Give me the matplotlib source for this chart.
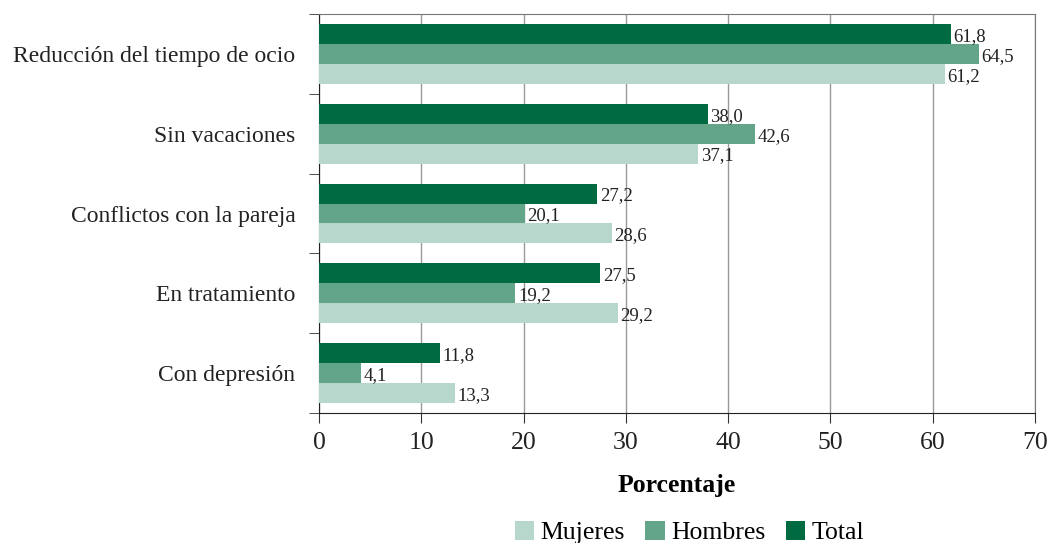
import matplotlib.pyplot as plt
import numpy as np

categorias = ['Reducción del tiempo de ocio', 'Sin vacaciones', 'Conflictos con la pareja',
              'En tratamiento', 'Con depresión']
total = [61.8, 38.0, 27.2, 27.5, 11.8]
hombres = [64.5, 42.6, 20.1, 19.2, 4.1]
mujeres = [61.2, 37.1, 28.6, 29.2, 13.3]

c_total = '#006a40'
c_hombres = '#62a589'
c_mujeres = '#b8d7cc'

plt.rcParams['font.family'] = ['Liberation Serif', 'DejaVu Serif']

fig = plt.figure(figsize=(10.51, 5.43), dpi=100)
ax = fig.add_axes([0.3035, 0.2394, 0.6813, 0.7348])

y = np.arange(len(categorias))
h = 0.25
ax.barh(y - h, total, h, color=c_total, label='Total', zorder=3)
ax.barh(y, hombres, h, color=c_hombres, label='Hombres', zorder=3)
ax.barh(y + h, mujeres, h, color=c_mujeres, label='Mujeres', zorder=3)

for vals, off in [(total, -h), (hombres, 0), (mujeres, h)]:
    for i, v in enumerate(vals):
        ax.text(v + 0.25, i + off + 0.03, f'{v:.1f}'.replace('.', ','), va='center',
                ha='left', fontsize=13.5, color='#222222', zorder=4)

ax.set_ylim(len(categorias) - 0.5, -0.5)
ax.set_xlim(0, 70)
ax.set_xticks(range(0, 71, 10))
ax.tick_params(axis='x', labelsize=18.5, length=7, pad=7, color='#333333', labelcolor='#222222')
ax.set_yticks(y)
ax.set_yticklabels(categorias, fontsize=17, color='#222222')
ax.tick_params(axis='y', length=0, pad=17)
ax.set_yticks(np.arange(len(categorias) + 1) - 0.5, minor=True)
ax.tick_params(axis='y', which='minor', length=7, color='#333333')
ax.grid(axis='x', color='#999999', linewidth=1, zorder=0)
for s in ['top', 'right']:
    ax.spines[s].set_color('#777777')
for s in ['left', 'bottom']:
    ax.spines[s].set_color('#222222')
ax.set_xlabel('Porcentaje', fontsize=18.5, fontweight='bold', labelpad=14)

hd, lb = ax.get_legend_handles_labels()
fig.legend(hd[::-1], lb[::-1], loc='lower center', bbox_to_anchor=(0.656, -0.045), ncol=3,
           frameon=False, fontsize=18.5, handlelength=0.75, handleheight=0.75,
           handletextpad=0.25, columnspacing=0.8)

fig.savefig('out.png', dpi=100)
